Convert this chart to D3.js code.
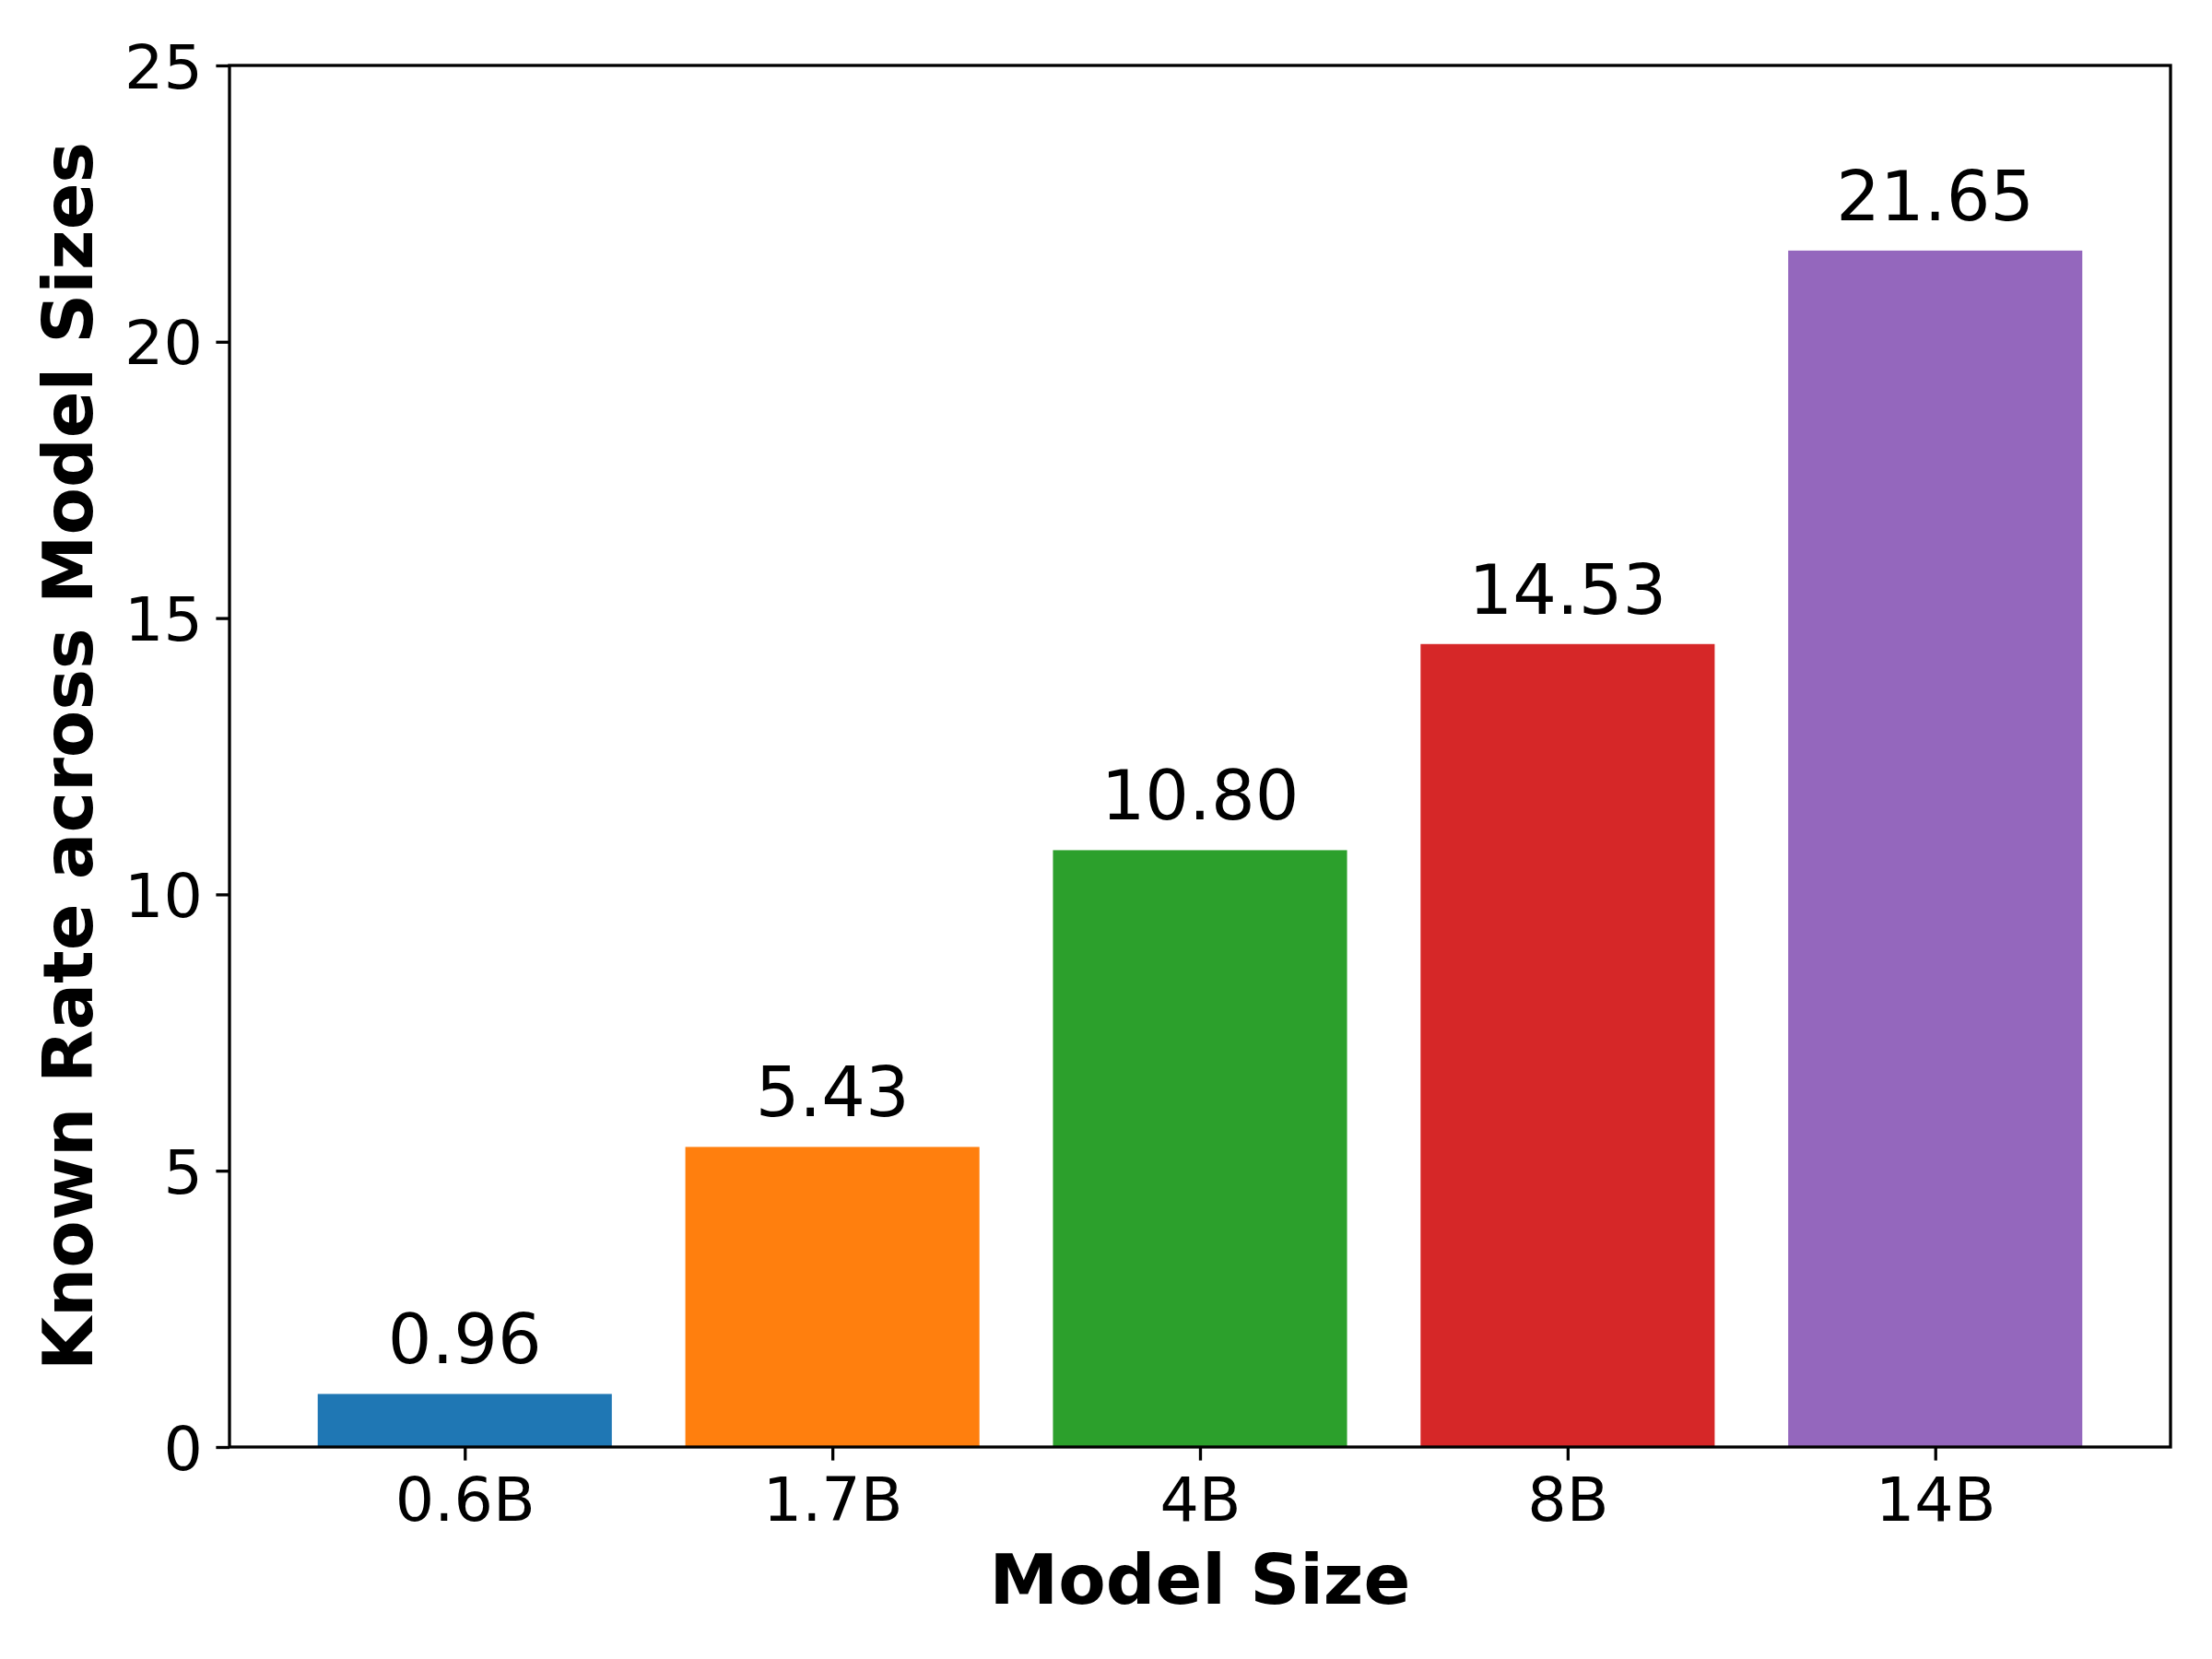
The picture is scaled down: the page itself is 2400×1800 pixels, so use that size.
<!DOCTYPE html>
<html>
<head>
<meta charset="utf-8">
<script src="https://cdn.jsdelivr.net/npm/d3@7"></script>
<style>
  html, body { margin: 0; padding: 0; background: #fff; }
  svg { display: block; }
  text { font-family: "DejaVu Sans", sans-serif; }
</style>
</head>
<body>
<svg id="chart" width="2400" height="1800"></svg>
<script>
const categories = ["0.6B", "1.7B", "4B", "8B", "14B"];
const values = [0.96, 5.43, 10.80, 14.53, 21.65];
const valueLabels = ["0.96", "5.43", "10.80", "14.53", "21.65"];
const colors = ["#1f77b4", "#ff7f0e", "#2ca02c", "#d62728", "#9467bd"];
const yTicks = [0, 5, 10, 15, 20, 25];
const xTitle = "Model Size";
const yTitle = "Known Rate across Model Sizes";

const svg = d3.select("#chart");
const L = 249, R = 2355, T = 71, B = 1570;
const barW = 0.8;

const x = d3.scaleLinear().domain([-0.64, categories.length - 1 + 0.64]).range([L, R]);
const y = d3.scaleLinear().domain([0, 25]).range([B, T]);

// bars
svg.append("g").selectAll("rect").data(values).join("rect")
  .attr("x", (d, i) => x(i - barW / 2))
  .attr("width", (d, i) => x(i + barW / 2) - x(i - barW / 2))
  .attr("y", d => y(d))
  .attr("height", d => y(0) - y(d))
  .attr("fill", (d, i) => colors[i]);

// value labels
svg.append("g").selectAll("text").data(values).join("text")
  .attr("x", (d, i) => x(i))
  .attr("y", d => y(d) - 33)
  .attr("text-anchor", "middle")
  .attr("font-size", 75)
  .attr("fill", "#000")
  .text((d, i) => valueLabels[i]);

// y axis
const yAxis = d3.axisLeft(y).tickValues(yTicks).tickFormat(d3.format("d")).tickSize(14.6).tickPadding(14.6);
const gy = svg.append("g").attr("transform", `translate(${L},0)`).call(yAxis);
gy.select(".domain").remove();
gy.selectAll(".tick line").attr("stroke", "#000").attr("stroke-width", 3.3);
gy.selectAll(".tick text").attr("font-size", 66.7).attr("fill", "#000")
  .attr("font-family", "DejaVu Sans").attr("dy", "0.36em");

// x axis
const xAxis = d3.axisBottom(x).tickValues(d3.range(categories.length))
  .tickFormat(i => categories[i]).tickSize(14.6).tickPadding(14.6);
const gx = svg.append("g").attr("transform", `translate(0,${B})`).call(xAxis);
gx.select(".domain").remove();
gx.selectAll(".tick line").attr("stroke", "#000").attr("stroke-width", 3.3);
gx.selectAll(".tick text").attr("font-size", 66.7).attr("fill", "#000")
  .attr("font-family", "DejaVu Sans").attr("dy", "0.76em");

// frame
svg.append("rect").attr("x", L).attr("y", T).attr("width", R - L).attr("height", B - T)
  .attr("fill", "none").attr("stroke", "#000").attr("stroke-width", 3.3);

// titles
svg.append("text").attr("x", (L + R) / 2).attr("y", 1740)
  .attr("text-anchor", "middle").attr("font-size", 75).attr("font-weight", "bold")
  .attr("fill", "#000").text(xTitle);
svg.append("text").attr("transform", `translate(100,${(T + B) / 2}) rotate(-90)`)
  .attr("text-anchor", "middle").attr("font-size", 75).attr("font-weight", "bold")
  .attr("fill", "#000").text(yTitle);
</script>
</body>
</html>
